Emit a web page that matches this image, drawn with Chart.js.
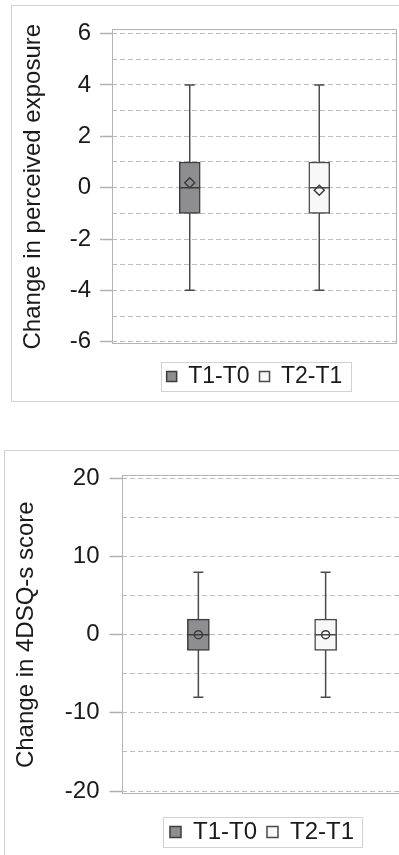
<!DOCTYPE html>
<html>
<head>
<meta charset="utf-8">
<script src="https://cdn.jsdelivr.net/npm/chart.js@4/dist/chart.umd.min.js"></script>
<style>
  html, body { margin: 0; padding: 0; background: #ffffff; overflow: hidden; width: 399px; height: 855px; }
  .frame { position: absolute; box-sizing: border-box; border: 1px solid #d2d2d2; background: #fff; }
  canvas { display: block; }
</style>
</head>
<body>
<div class="frame" id="f1" style="left:11px; top:5px; width:420px; height:397px;">
  <canvas id="c1" width="418" height="395" style="width:418px;height:395px"></canvas>
</div>
<div class="frame" id="f2" style="left:4px; top:450px; width:420px; height:420px;">
  <canvas id="c2" width="418" height="410" style="width:418px;height:410px"></canvas>
</div>
<script>
// ---------- data ----------
const categories = ['T1-T0', 'T2-T1'];

// Panel 1: change in perceived exposure
const expWhiskerLow  = [-4, -4];
const expQ1          = [-1, -1];
const expMedian      = [0, 0];
const expQ3          = [1, 1];
const expWhiskerHigh = [4, 4];
const expMean        = [0.19, -0.1];
const expGridValues  = [-6, -5, -4, -3, -2, -1, 0, 1, 2, 3, 4, 5, 6];
const expTickLabels  = [-6, -4, -2, 0, 2, 4, 6];

// Panel 2: change in 4DSQ-s score
const scoreWhiskerLow  = [-8, -8];
const scoreQ1          = [-2, -2];
const scoreMedian      = [0, 0];
const scoreQ3          = [2, 2];
const scoreWhiskerHigh = [8, 8];
const scoreMean        = [0, 0];
const scoreGridValues  = [-20, -15, -10, -5, 0, 5, 10, 15, 20];
const scoreTickLabels  = [-20, -10, 0, 10, 20];

// ---------- styling ----------
const FONT = "'Liberation Sans', Arial, sans-serif";
const boxFills = ['#8e8e90', '#f8f8f8'];
const boxBorders = ['#3c3c3c', '#4a4a4a'];
const whiskerColor = '#4a4a4a';

const frameAndLegendBox = {
  id: 'frameAndLegendBox',
  beforeDatasetsDraw(chart) {
    const a = chart.chartArea, ctx = chart.ctx;
    ctx.save();
    ctx.strokeStyle = '#b4b4b4';
    ctx.lineWidth = 1;
    ctx.strokeRect(Math.round(a.left) + 0.5, Math.round(a.top) + 0.5,
                   Math.round(a.right - a.left) - 1, Math.round(a.bottom - a.top) - 1);
    ctx.restore();
  },
  afterDraw(chart, args, opts) {
    const lg = chart.legend;
    if (!lg || !lg.legendHitBoxes || !lg.legendHitBoxes.length) return;
    const hb = lg.legendHitBoxes;
    let l = Infinity, r = -Infinity, t = Infinity, b = -Infinity;
    hb.forEach(h => { l = Math.min(l, h.left); r = Math.max(r, h.left + h.width);
                      t = Math.min(t, h.top); b = Math.max(b, h.top + h.height); });
    const ctx = chart.ctx;
    ctx.save();
    ctx.strokeStyle = '#d2d2d2';
    ctx.lineWidth = 1;
    ctx.strokeRect(Math.round(l - opts.padL) + 0.5, Math.round(t - opts.padV) + 0.5,
                   Math.round(r - l + opts.padL + opts.padR), Math.round(b - t + 2 * opts.padV));
    ctx.restore();
  }
};

function buildChart(canvasId, cfg) {
  const datasets = [];
  // boxes (legend entries)
  categories.forEach((name, i) => {
    datasets.push({
      type: 'bar',
      label: name,
      data: [{ x: i + 1, y: [cfg.q1[i], cfg.q3[i]] }],
      backgroundColor: boxFills[i],
      borderColor: boxBorders[i],
      borderWidth: 1.5,
      borderSkipped: false,
      barThickness: cfg.boxWidth,
      grouped: false,
      order: 2
    });
  });
  categories.forEach((name, i) => {
    // whisker line
    datasets.push({
      type: 'line',
      label: '_whisker' + i,
      data: [{ x: i + 1, y: cfg.hi[i] }, { x: i + 1, y: cfg.lo[i] }],
      borderColor: whiskerColor,
      borderWidth: 1.5,
      pointRadius: 0,
      order: 3
    });
    // caps
    datasets.push({
      type: 'line',
      label: '_cap' + i,
      data: [{ x: i + 1, y: cfg.hi[i] }, { x: i + 1, y: cfg.lo[i] }],
      showLine: false,
      pointStyle: 'line',
      pointRadius: 5,
      pointBorderColor: whiskerColor,
      pointBorderWidth: 1.5,
      order: 1
    });
    // median
    datasets.push({
      type: 'line',
      label: '_median' + i,
      data: [{ x: i + 1, y: cfg.med[i] }],
      showLine: false,
      pointStyle: 'line',
      pointRadius: cfg.boxWidth / 2,
      pointBorderColor: boxBorders[i],
      pointBorderWidth: 1.5,
      order: 1
    });
    // mean
    datasets.push({
      type: 'line',
      label: '_mean' + i,
      data: [{ x: i + 1, y: cfg.mean[i] }],
      showLine: false,
      pointStyle: cfg.meanStyle,
      pointRadius: cfg.meanRadius,
      pointBackgroundColor: 'rgba(0,0,0,0)',
      pointBorderColor: '#3c3c3c',
      pointBorderWidth: 1.5,
      order: 0
    });
  });

  return new Chart(document.getElementById(canvasId), {
    type: 'bar',
    data: { datasets },
    options: {
      responsive: false,
      animation: false,
      devicePixelRatio: 1,
      layout: { padding: cfg.padding },
      plugins: {
        tooltip: { enabled: false },
        legend: {
          position: 'bottom',
          fullSize: false,
          labels: {
            filter: item => !item.text.startsWith('_'),
            boxWidth: cfg.legendBox,
            boxHeight: cfg.legendBox,
            padding: 10,
            color: '#1a1a1a',
            font: { family: FONT, size: cfg.legendFont }
          }
        },
        frameAndLegendBox: { padL: cfg.legPadL, padR: cfg.legPadR, padV: 3 }
      },
      scales: {
        x: {
          type: 'linear',
          min: 0.4,
          max: 2.6,
          offset: false,
          display: true,
          grid: { display: false, offset: false },
          border: { display: false },
          ticks: { display: false },
          afterFit: s => { s.height = cfg.xAxisHeight; }
        },
        y: {
          type: 'linear',
          min: cfg.yMin,
          max: cfg.yMax,
          afterBuildTicks: s => { s.ticks = cfg.grid.map(v => ({ value: v })); },
          afterFit: s => { s.width = cfg.yAxisWidth; },
          border: { display: false, dash: [5, 3] },
          grid: {
            color: '#bdbdbd',
            lineWidth: 1,
            tickLength: cfg.tickLen,
            tickBorderDash: [],
            tickColor: c => cfg.labels.includes(c.tick.value) ? '#b0b0b0' : 'rgba(0,0,0,0)',
            tickWidth: 1.5
          },
          ticks: {
            autoSkip: false,
            padding: cfg.tickPad,
            color: '#1a1a1a',
            font: { family: FONT, size: 24 },
            callback: v => cfg.labels.includes(v) ? String(v) : ''
          },
          title: {
            display: true,
            text: cfg.title,
            color: '#1a1a1a',
            font: { family: FONT, size: 24 },
            padding: { top: 7, bottom: 0 }
          }
        }
      }
    },
    plugins: [frameAndLegendBox]
  });
}

buildChart('c1', {
  q1: expQ1, q3: expQ3, med: expMedian, lo: expWhiskerLow, hi: expWhiskerHigh, mean: expMean,
  grid: expGridValues, labels: expTickLabels,
  yMin: -6.09, yMax: 6.165,
  title: 'Change in perceived exposure',
  boxWidth: 21, meanStyle: 'rectRot', meanRadius: 5,
  padding: { left: 0, top: 19, right: 33, bottom: 3 },
  yAxisWidth: 100, tickLen: 12, tickPad: 9,
  xAxisHeight: 11, legendFont: 23, legendBox: 10, legPadL: 6, legPadR: 8
});

buildChart('c2', {
  q1: scoreQ1, q3: scoreQ3, med: scoreMedian, lo: scoreWhiskerLow, hi: scoreWhiskerHigh, mean: scoreMean,
  grid: scoreGridValues, labels: scoreTickLabels,
  yMin: -20.38, yMax: 20.38,
  title: 'Change in 4DSQ-s score',
  boxWidth: 22, meanStyle: 'circle', meanRadius: 4,
  padding: { left: 0, top: 20, right: 21, bottom: 7 },
  yAxisWidth: 117, tickLen: 12.5, tickPad: 10,
  xAxisHeight: 16, legendFont: 24, legendBox: 11, legPadL: 7, legPadR: 8
});
</script>
</body>
</html>
